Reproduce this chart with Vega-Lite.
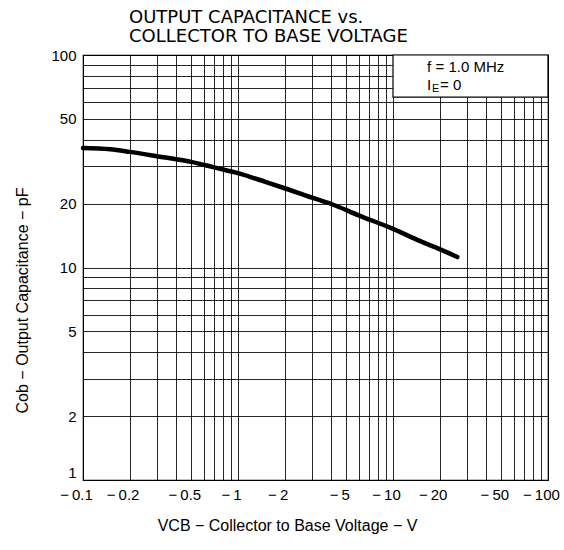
{
  "$schema": "https://vega.github.io/schema/vega-lite/v6.json",
  "autosize": "none",
  "padding": {"left": 83, "top": 55, "right": 16, "bottom": 70},
  "width": 465,
  "height": 425,
  "background": "white",
  "config": {
    "font": "Liberation Sans",
    "view": {"stroke": "black", "strokeWidth": 1.2}
  },
  "title": {
    "text": ["OUTPUT CAPACITANCE vs.", "COLLECTOR TO BASE VOLTAGE"],
    "anchor": "start",
    "frame": "group",
    "dx": 46,
    "offset": 2,
    "fontSize": 18,
    "fontWeight": "normal",
    "lineHeight": 19,
    "color": "black",
    "font": "DejaVu Sans"
  },
  "layer": [
    {
      "data": {
        "values": [
          {"v": 0.1, "c": 36.5},
          {"v": 0.15, "c": 36.0},
          {"v": 0.2, "c": 35.0},
          {"v": 0.3, "c": 33.4},
          {"v": 0.5, "c": 31.4},
          {"v": 0.7, "c": 29.6},
          {"v": 1.0, "c": 27.8},
          {"v": 1.5, "c": 25.3},
          {"v": 2.0, "c": 23.6},
          {"v": 3.0, "c": 21.3},
          {"v": 4.0, "c": 19.9},
          {"v": 6.0, "c": 17.6},
          {"v": 10.0, "c": 15.2},
          {"v": 15.0, "c": 13.3},
          {"v": 20.0, "c": 12.2},
          {"v": 26.0, "c": 11.2}
        ]
      },
      "mark": {"type": "line", "color": "black", "strokeWidth": 4.5, "interpolate": "monotone", "strokeCap": "round"},
      "encoding": {
        "x": {
          "field": "v", "type": "quantitative",
          "scale": {"type": "log", "domain": [0.1, 100], "nice": false},
          "axis": {
            "values": [0.1,0.2,0.3,0.4,0.5,0.6,0.7,0.8,0.9,1,2,3,4,5,6,7,8,9,10,20,30,40,50,60,70,80,90,100],
            "labelExpr": "indexof([0.1,0.2,0.5,1,2,5,10,20,50,100], datum.value) >= 0 ? '−\u2009' + format(datum.value, '~g') : ''",
            "grid": true, "gridColor": "black", "gridOpacity": 0.85, "gridWidth": 1,
            "ticks": false, "domain": false,
            "labelFontSize": 15, "labelColor": "black", "labelPadding": 7, "labelFlush": false, "labelOverlap": false, "labelBound": false,
            "labelOffset": -7,
            "title": "VCB − Collector to Base Voltage − V",
            "titleFontSize": 16, "titleFontWeight": "normal", "titleColor": "black",
            "titleX": 204, "titlePadding": 15, "titleAlign": "center"
          }
        },
        "y": {
          "field": "c", "type": "quantitative",
          "scale": {"type": "log", "domain": [1, 100], "nice": false},
          "axis": {
            "values": [1,2,3,4,5,6,7,8,9,10,20,30,40,50,60,70,80,90,100],
            "labelExpr": "indexof([1,2,5,10,20,50,100], datum.value) >= 0 ? format(datum.value, '~g') : ''",
            "grid": true, "gridColor": "black", "gridOpacity": 0.85, "gridWidth": 1,
            "ticks": false, "domain": false,
            "labelFontSize": 15, "labelColor": "black", "labelPadding": 7, "labelOverlap": false, "labelBound": false,
            "labelBaseline": {"condition": {"test": "datum.value == 1", "value": "bottom"}, "value": "middle"},
            "title": "Cob − Output Capacitance − pF",
            "titleFontSize": 16, "titleFontWeight": "normal", "titleColor": "black",
            "titleX": -61, "titleY": 245, "titleAngle": -90, "titleAlign": "center", "titleBaseline": "middle"
          }
        }
      }
    },
    {
      "data": {"values": [{}]},
      "mark": {"type": "rect", "fill": "white", "stroke": "black", "strokeWidth": 1.2},
      "encoding": {
        "x": {"datum": 10, "type": "quantitative"},
        "x2": {"datum": 100},
        "y": {"datum": 63.4, "type": "quantitative"},
        "y2": {"datum": 100}
      }
    },
    {
      "data": {"values": [{}]},
      "mark": {"type": "text", "align": "left", "baseline": "middle", "fontSize": 15, "fontWeight": "normal", "font": "Liberation Sans", "color": "black"},
      "encoding": {
        "x": {"datum": 16.6, "type": "quantitative"},
        "y": {"datum": 88, "type": "quantitative"},
        "text": {"value": "f = 1.0 MHz"}
      }
    },
    {
      "data": {"values": [{}]},
      "mark": {"type": "text", "align": "left", "baseline": "middle", "fontSize": 15, "fontWeight": "normal", "font": "Liberation Sans", "color": "black"},
      "encoding": {
        "x": {"datum": 16.6, "type": "quantitative"},
        "y": {"datum": 72.3, "type": "quantitative"},
        "text": {"value": "I"}
      }
    },
    {
      "data": {"values": [{}]},
      "mark": {"type": "text", "align": "left", "baseline": "middle", "fontSize": 11, "fontWeight": "normal", "font": "Liberation Sans", "color": "black", "dx": 5, "dy": 4},
      "encoding": {
        "x": {"datum": 16.6, "type": "quantitative"},
        "y": {"datum": 72.3, "type": "quantitative"},
        "text": {"value": "E"}
      }
    },
    {
      "data": {"values": [{}]},
      "mark": {"type": "text", "align": "left", "baseline": "middle", "fontSize": 15, "fontWeight": "normal", "font": "Liberation Sans", "color": "black", "dx": 13},
      "encoding": {
        "x": {"datum": 16.6, "type": "quantitative"},
        "y": {"datum": 72.3, "type": "quantitative"},
        "text": {"value": "= 0"}
      }
    }
  ]
}
